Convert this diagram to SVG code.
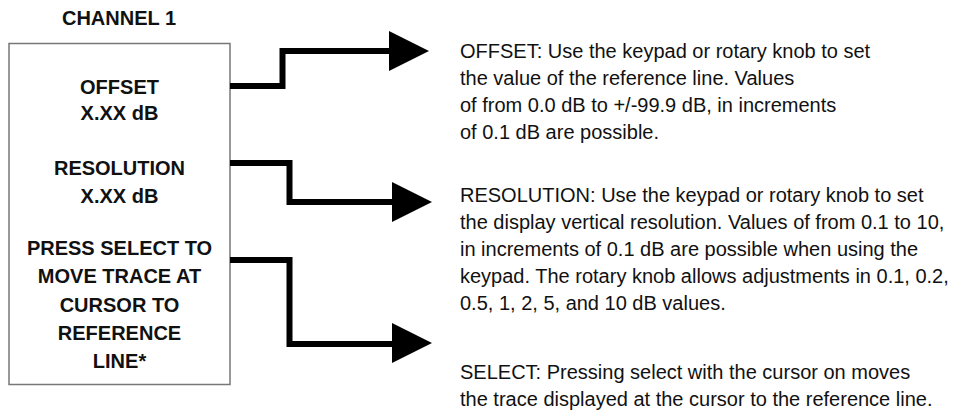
<svg xmlns="http://www.w3.org/2000/svg" width="954" height="418" viewBox="0 0 954 418">
<style>
.bold{font-family:"Liberation Sans",Arial,sans-serif;font-weight:bold;font-size:20px;fill:#111;text-anchor:middle}
.body{font-family:"Liberation Sans",Arial,sans-serif;font-size:20px;fill:#111}
.conn{fill:none;stroke:#000;stroke-width:6;stroke-linejoin:miter}
.head{fill:#000}
</style>
<rect width="954" height="418" fill="#fff"/>
<text class="bold" x="119" y="25">CHANNEL 1</text>
<g id="channel-box">
<rect x="9" y="43.5" width="221" height="341" fill="#fff" stroke="#777" stroke-width="1.5"/>
<text class="bold" x="119.5" y="94">OFFSET</text>
<text class="bold" x="119.5" y="120">X.XX dB</text>
<text class="bold" x="119.5" y="175">RESOLUTION</text>
<text class="bold" x="119.5" y="203">X.XX dB</text>
<text class="bold" x="119.5" y="255">PRESS SELECT TO</text>
<text class="bold" x="119.5" y="283">MOVE TRACE AT</text>
<text class="bold" x="119.5" y="312">CURSOR TO</text>
<text class="bold" x="119.5" y="340">REFERENCE</text>
<text class="bold" x="119.5" y="368">LINE*</text>
</g>
<g id="connectors">
<polyline class="conn" points="230,86 282.5,86 282.5,51 390,51"/>
<polygon class="head" points="389,31 429,51 389,71"/>
<polyline class="conn" points="230,163 289.5,163 289.5,202 393,202"/>
<polygon class="head" points="392,182 432,202 392,222"/>
<polyline class="conn" points="230,260 289.5,260 289.5,344 393,344"/>
<polygon class="head" points="392,323 432,343 392,363"/>
</g>
<g id="offset-desc">
<text class="body" x="460" y="58">OFFSET: Use the keypad or rotary knob to set</text>
<text class="body" x="460" y="85">the value of the reference line. Values</text>
<text class="body" x="460" y="112">of from 0.0 dB to +/-99.9 dB, in increments</text>
<text class="body" x="460" y="139">of 0.1 dB are possible.</text>
</g>
<g id="resolution-desc">
<text class="body" x="460" y="202">RESOLUTION: Use the keypad or rotary knob to set</text>
<text class="body" x="460" y="229">the display vertical resolution. Values of from 0.1 to 10,</text>
<text class="body" x="460" y="256">in increments of 0.1 dB are possible when using the</text>
<text class="body" x="460" y="283">keypad. The rotary knob allows adjustments in 0.1, 0.2,</text>
<text class="body" x="460" y="310">0.5, 1, 2, 5, and 10 dB values.</text>
</g>
<g id="select-desc">
<text class="body" x="460" y="379">SELECT: Pressing select with the cursor on moves</text>
<text class="body" x="460" y="406">the trace displayed at the cursor to the reference line.</text>
</g>
</svg>
